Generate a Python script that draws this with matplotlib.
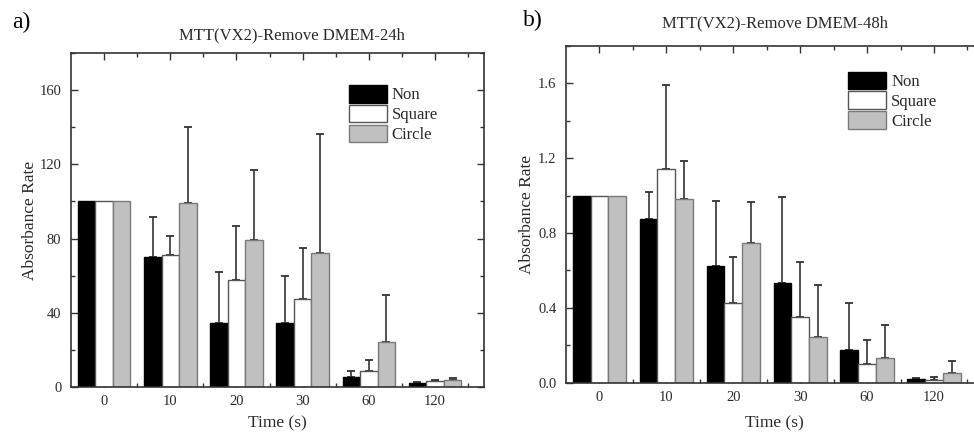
import numpy as np
import matplotlib
matplotlib.use('Agg')
from matplotlib import pyplot as plt
from matplotlib.ticker import MultipleLocator, FixedLocator

plt.rcParams['font.family'] = ['Liberation Serif', 'DejaVu Serif']

times = ['0', '10', '20', '30', '60', '120']
groups = ['Non', 'Square', 'Circle']

# 24h
non_24 = [100, 70.3, 34.5, 34.5, 5.4, 2.2]
non_24_err = [0, 21.1, 27.4, 25.4, 3.3, 0.3]
square_24 = [100, 71.0, 57.7, 47.6, 8.7, 3.1]
square_24_err = [0, 10.5, 28.9, 27.1, 6.1, 0.9]
circle_24 = [100, 98.9, 79.2, 72.2, 24.2, 3.6]
circle_24_err = [0, 41.1, 37.5, 64.0, 25.6, 1.3]

# 48h
non_48 = [1.0, 0.873, 0.622, 0.534, 0.175, 0.02]
non_48_err = [0, 0.146, 0.349, 0.458, 0.251, 0.007]
square_48 = [1.0, 1.14, 0.428, 0.353, 0.098, 0.017]
square_48_err = [0, 0.453, 0.244, 0.292, 0.132, 0.015]
circle_48 = [1.0, 0.98, 0.745, 0.244, 0.134, 0.053]
circle_48_err = [0, 0.205, 0.219, 0.278, 0.174, 0.063]

faces = ['black', 'white', '#c0c0c0']
edges = ['black', '#555555', '#7a7a7a']
TXT = '#2a2a2a'


def draw_panel(ax, series, errs, ymax, ystep, fmt):
    x = np.arange(len(times))
    w = 0.265
    for i, (vals, err) in enumerate(zip(series, errs)):
        pos = x + (i - 1) * w
        ax.bar(pos, vals, w, color=faces[i], edgecolor=edges[i],
               linewidth=1.0, label=groups[i], zorder=2)
        vals = np.array(vals)
        err = np.array(err)
        m = err > 0
        ax.errorbar(pos[m], vals[m], yerr=[np.zeros(m.sum()), err[m]],
                    fmt='none', ecolor='#333333', elinewidth=1.2,
                    capsize=2.6, capthick=1.3, zorder=1)

    ax.set_xlim(-0.5, 5.74)
    ax.set_ylim(0, ymax)
    ax.set_xticks(x)
    ax.set_xticklabels(times)
    ax.xaxis.set_minor_locator(FixedLocator(x + 0.5))
    ax.yaxis.set_major_locator(MultipleLocator(ystep))
    ax.yaxis.set_minor_locator(MultipleLocator(ystep / 2))
    ax.yaxis.set_major_formatter(fmt)
    ax.tick_params(which='both', direction='in', top=True, right=True,
                   color='#333333', width=1.0, labelsize=10.5,
                   labelcolor=TXT)
    ax.tick_params(which='major', length=5)
    ax.tick_params(which='minor', length=3)
    ax.tick_params(axis='y', pad=7)
    ax.tick_params(axis='x', pad=6)
    for s in ax.spines.values():
        s.set_color('#333333')
        s.set_linewidth(1.2)
    ax.set_ylabel('Absorbance Rate', fontsize=12.5, color=TXT)
    ax.set_xlabel('Time (s)', fontsize=12.5, color=TXT)


fig = plt.figure(figsize=(9.74, 4.37), dpi=100)

ax1 = fig.add_axes([71 / 974, 1 - 387 / 437, 413 / 974, 334 / 437])
draw_panel(ax1, [non_24, square_24, circle_24],
           [non_24_err, square_24_err, circle_24_err], 180, 40,
           lambda v, p: '%d' % v)
ax1.yaxis.set_label_coords(-0.08, 0.5)
ax1.xaxis.set_label_coords(0.5, -0.084)

ax2 = fig.add_axes([566 / 974, 1 - 382.7 / 437, 417.5 / 974, 336.7 / 437])
draw_panel(ax2, [non_48, square_48, circle_48],
           [non_48_err, square_48_err, circle_48_err], 1.8, 0.4,
           lambda v, p: '%.1f' % v)
ax2.yaxis.set_label_coords(-0.074, 0.5)
ax2.xaxis.set_label_coords(0.498, -0.096)

for ax, anchor in [(ax1, (348.5 / 974, 1 - 85 / 437)),
                   (ax2, (847.7 / 974, 1 - 71.7 / 437))]:
    ax.legend(loc='upper left', bbox_to_anchor=anchor,
              bbox_transform=fig.transFigure, frameon=False,
              fontsize=12, handlelength=2.3, handleheight=1.25,
              labelspacing=0.08, handletextpad=0.3, borderpad=0,
              borderaxespad=0, labelcolor=TXT)

fig.text(292 / 974, 1 - 35 / 437, 'MTT(VX2)-Remove DMEM-24h',
         ha='center', va='center', fontsize=12, color=TXT)
fig.text(774.7 / 974, 1 - 23 / 437, 'MTT(VX2)-Remove DMEM-48h',
         ha='center', va='center', fontsize=12, color=TXT)
fig.text(21 / 974, 1 - 22 / 437, 'a)', ha='center', va='center',
         fontsize=17, color='black')
fig.text(533 / 974, 1 - 20 / 437, 'b)', ha='center', va='center',
         fontsize=17, color='black')

fig.savefig('out.png', dpi=100)
